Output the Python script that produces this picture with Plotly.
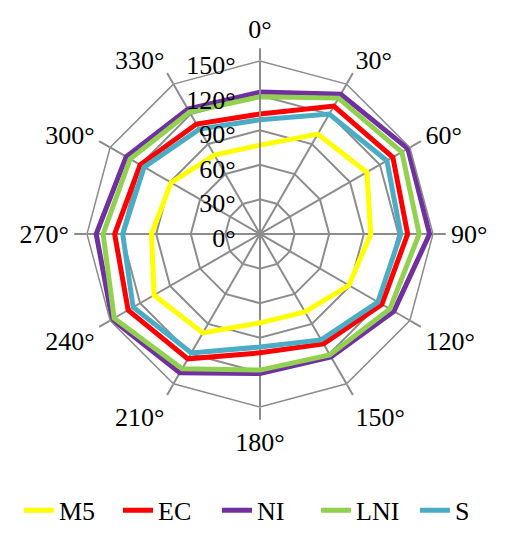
import plotly.graph_objects as go

categories = ["0°", "30°", "60°", "90°", "120°", "150°", "180°", "210°", "240°", "270°", "300°", "330°"]
series_names = ["M5", "EC", "NI", "LNI", "S"]
m5 = [77, 100, 107, 96, 89, 78, 77, 99, 106, 94, 89, 79]
ec = [104, 128, 133, 128, 122, 110, 103, 125, 132, 126, 120, 110]
ni = [123, 140, 148, 147, 134, 123, 121, 139, 148, 142, 134, 125]
lni = [119, 136, 142, 138, 130, 121, 118, 135, 146, 136, 130, 122]
s = [99, 120, 127, 122, 118, 106, 98, 119, 127, 119, 116, 105]
radial_ticks = [0, 30, 60, 90, 120, 150]

colors = ["#FFFF00", "#FF0000", "#7030A0", "#92D050", "#4BACC6"]
values = [m5, ec, ni, lni, s]

FONT = "Liberation Serif"
FS = 26
GRID = "#8c8c8c"
W, H = 514, 534
cx, cy, R = 260, 238, 176

fig = go.Figure()
for name, vals, col in zip(series_names, values, colors):
    fig.add_trace(go.Scatterpolar(
        r=vals + [vals[0]],
        theta=categories + [categories[0]],
        mode="lines",
        name=name,
        line=dict(color=col, width=5),
    ))

fig.update_layout(
    width=W, height=H,
    margin=dict(l=0, r=0, t=0, b=0),
    paper_bgcolor="white",
    plot_bgcolor="white",
    font=dict(family=FONT, size=FS, color="black"),
    polar=dict(
        domain=dict(x=[(cx - R) / W, (cx + R) / W],
                    y=[(H - cy - R) / H, (H - cy + R) / H]),
        bgcolor="white",
        gridshape="linear",
        angularaxis=dict(
            type="category",
            categoryorder="array",
            categoryarray=categories,
            rotation=90,
            direction="clockwise",
            showline=True,
            linecolor=GRID,
            linewidth=1.5,
            gridcolor=GRID,
            gridwidth=1.5,
            ticks="outside",
            ticklen=12,
            tickcolor=GRID,
            tickwidth=1.5,
            tickfont=dict(family=FONT, size=FS, color="black"),
        ),
        radialaxis=dict(
            range=[0, 150],
            tickvals=radial_ticks,
            ticktext=[f"{v}°" for v in radial_ticks],
            angle=90,
            side="counterclockwise",
            showline=True,
            linecolor=GRID,
            linewidth=2,
            gridcolor=GRID,
            gridwidth=1.5,
            ticks="",
            tickfont=dict(family=FONT, size=FS, color="black"),
        ),
    ),
    legend=dict(
        orientation="h",
        x=1.0, xanchor="right",
        y=(H - 519) / H, yanchor="middle",
        font=dict(family=FONT, size=FS, color="black"),
        entrywidth=54,
        tracegroupgap=0,
        bgcolor="rgba(0,0,0,0)",
    ),
    showlegend=True,
)

fig.write_html("out.html")
